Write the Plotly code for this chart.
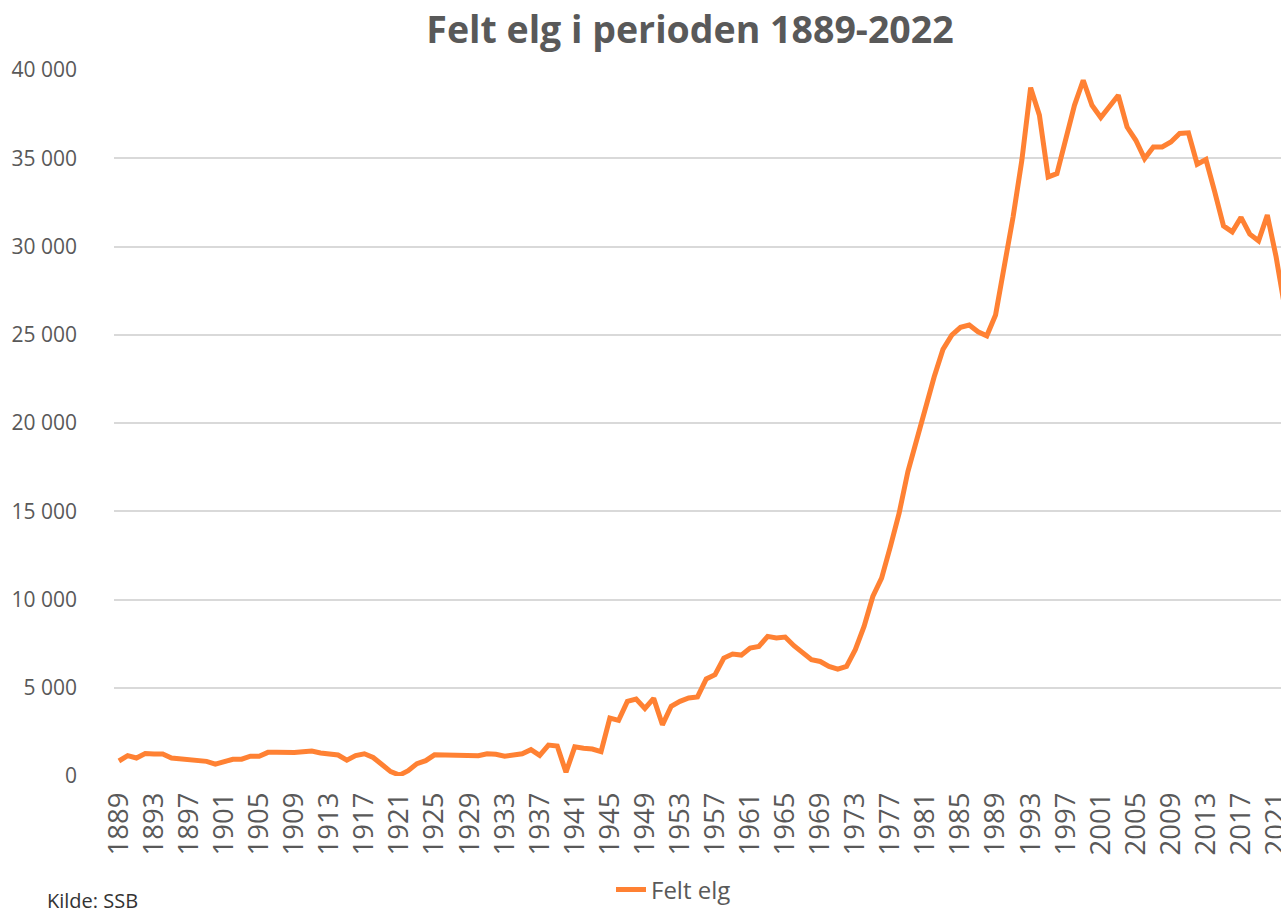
import plotly.graph_objects as go

years = list(range(1889, 2023))
felt_elg = [
    850, 1150, 1020, 1270, 1240, 1250, 1020, 970, 890, 880,
    830, 670, 800, 950, 950, 1120, 1120, 1340, 1340, 1300,
    1330, 1370, 1410, 1300, 1270, 1190, 900, 1160, 1260, 1050,
    650, 250, 50, 300, 700, 870, 1200, 1190, 1190, 1200,
    1150, 1150, 1260, 1230, 1120, 1190, 1260, 1490, 1170, 1750,
    1700, 210, 1650, 1570, 1530, 1380, 3280, 3150, 4230, 4360,
    3830, 4400, 2900, 3950, 4230, 4420, 4480, 5500, 5740, 6680,
    6910, 6850, 7250, 7340, 7910, 7820, 7870, 7380, 6970, 6590,
    6490, 6210, 6060, 6210, 7160, 8470, 10170, 11210, 13000, 14890,
    17250, 19040, 21020, 22620, 24170, 24980, 25420, 25550, 25170, 24940,
    26120, 28760, 31680, 34890, 39000, 37440, 33940, 34130, 36020, 38000,
    39420, 38000, 37310, 37900, 38570, 36770, 36020, 34980, 35640, 35640,
    35920, 36400, 36440, 34660, 34930, 33090, 31170, 30830, 31650, 30700,
    30320, 31780, 29420, 26500,
]
tick_years = list(range(1889, 2022, 4))
tick_labels = [str(y) for y in tick_years]
y_ticks = [0, 5000, 10000, 15000, 20000, 25000, 30000, 35000, 40000]

title_text = "Felt elg i perioden 1889-2022"
series_name = "Felt elg"
source_text = "Kilde: SSB"

W, H = 1281, 912
ML, MR, MT, MB = 114, 0, 70, 136
pw = W - ML - MR
ph = H - MT - MB

LINE_COLOR = "#FF8133"
TEXT_COLOR = "#595959"
GRID_COLOR = "#D9D9D9"
FONT = "Open Sans"

fig = go.Figure()
fig.add_trace(go.Scatter(
    x=years, y=felt_elg, mode="lines", name=series_name,
    line=dict(color=LINE_COLOR, width=5),
    cliponaxis=True,
))

fig.update_layout(
    width=W, height=H,
    margin=dict(l=ML, r=MR, t=MT, b=MB, autoexpand=False),
    paper_bgcolor="white", plot_bgcolor="white",
    separators=", ",
    font=dict(family=FONT, color=TEXT_COLOR, size=24),
    title=dict(
        text="<b>" + title_text + "</b>",
        font=dict(family=FONT, size=37.5, color=TEXT_COLOR),
        x=690 / W, xref="container", xanchor="center",
        y=1 - 30 / H, yref="container", yanchor="middle",
    ),
    xaxis=dict(
        range=[1888.44, 2021.56], automargin=False,
        tickmode="array", tickvals=tick_years, ticktext=tick_labels,
        tickangle=-90, showgrid=False, zeroline=False, showline=False,
        ticks="", ticklabelstandoff=10, ticklabeloverflow="allow",
        tickfont=dict(family=FONT, size=27.5, color=TEXT_COLOR),
    ),
    yaxis=dict(
        range=[0, 40000], automargin=False,
        tickmode="array", tickvals=y_ticks,
        tickformat=",d",
        showgrid=True, gridcolor=GRID_COLOR, gridwidth=2,
        zeroline=False, showline=False, ticks="",
        ticklabelstandoff=36,
        tickfont=dict(family=FONT, size=21, color=TEXT_COLOR),
    ),
    showlegend=True,
    legend=dict(
        orientation="h",
        x=(611 - ML) / pw, xanchor="left",
        y=(MT + ph - 890) / ph, yanchor="middle",
        font=dict(family=FONT, size=24, color=TEXT_COLOR),
        bgcolor="rgba(0,0,0,0)",
    ),
)

fig.add_annotation(
    text=source_text, showarrow=False,
    xref="paper", yref="paper",
    x=(45 - ML) / pw, xanchor="left",
    y=(MT + ph - 900) / ph, yanchor="middle",
    font=dict(family=FONT, size=20, color="#333333"),
)

fig.write_html(
    "out.html",
    config={"displayModeBar": False},
    post_script="document.body.style.margin='0';document.body.style.overflow='hidden';",
)
